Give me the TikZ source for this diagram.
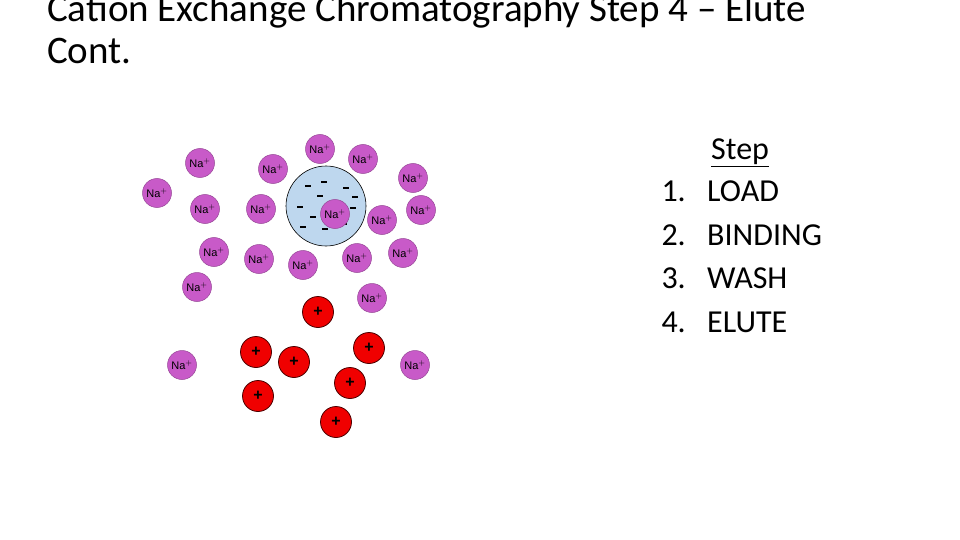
\documentclass[tikz,border=0pt]{standalone}
\usepackage{fontspec}
\setmainfont{Carlito}
\setsansfont{Liberation Sans}
\begin{document}
\begin{tikzpicture}[x=1pt,y=-1pt,
 na/.style={circle,fill={rgb,255:red,200;green,90;blue,200},draw={rgb,255:red,150;green,70;blue,150},line width=0.5pt,minimum size=29pt,inner sep=0pt,font=\sffamily\fontsize{11}{11}\selectfont},
 red/.style={circle,fill={rgb,255:red,240;green,0;blue,0},draw=black!70!red,line width=0.8pt,minimum size=31pt,inner sep=0pt,font=\sffamily\bfseries\fontsize{16}{16}\selectfont},
 mn/.style={fill=black,inner sep=0pt,minimum width=6pt,minimum height=2.2pt},
 txt/.style={font=\fontsize{32}{32}\selectfont,inner sep=0pt}]
\useasboundingbox (0,0) rectangle (960,540);
\node[anchor=base west,font=\fontsize{39}{40}\selectfont,inner sep=0pt] (t1) at (47,22) {Cation Exchange Chromatography Step 4 – Elute};
\node[anchor=base west,font=\fontsize{39}{40}\selectfont,inner sep=0pt] (t2) at (47,64) {Cont.};
\node[circle,fill={rgb,255:red,190;green,215;blue,238},draw=black,line width=0.6pt,minimum size=80pt] (bead) at (326,206) {};
\foreach \x/\y [count=\i] in {308/186,324/182,346/188,320/196,355/197,300/207,313/217,353/208,303/227,325/229,344/224}
  \node[mn] (m\i) at (\x,\y) {};
\foreach \x/\y [count=\i] in {200/163,157/193,273/169,320/149,363/159,413/178,205/209,261/209,335/214,382/220,421/210,214/252,259/259,303/265,357/258,403/253,197/287,372/298,182/365,415/365}
  \node[na] (n\i) at (\x,\y) {Na$^{+}$};
\foreach \x/\y [count=\i] in {318/312,256/352,294/362,369/348,350/383,258/396,336/422}
  \node[red] (r\i) at (\x,\y) {+};
\node[txt,anchor=base west] (s0) at (711,160) {\underline{Step}};
\foreach \n/\t/\y in {1/LOAD/201,2/BINDING/245,3/WASH/288,4/ELUTE/332}{
  \node[txt,anchor=base east] (k\n) at (686,\y) {\n.};
  \node[txt,anchor=base west] (s\n) at (707,\y) {\t};
}
\end{tikzpicture}
\end{document}
